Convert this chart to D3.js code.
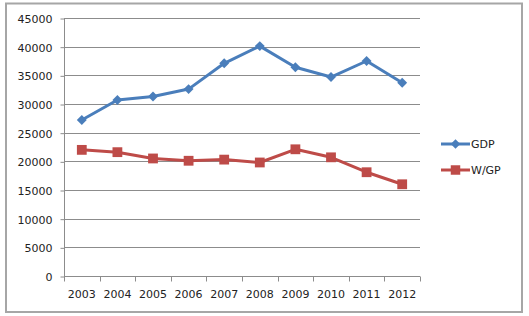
<!DOCTYPE html>
<html lang="en">
<head>
  <meta charset="utf-8">
  <title>GDP vs W/GP</title>
  <script src="https://cdn.jsdelivr.net/npm/d3@7"></script>
  <style>
    body { margin: 0; background: #fff; }
    svg text { font-family: "DejaVu Sans", sans-serif; font-size: 11px; fill: #222; }
  </style>
</head>
<body>
  <div id="chart"></div>
  <script>
    var years = ["2003", "2004", "2005", "2006", "2007", "2008", "2009", "2010", "2011", "2012"];
    var gdp = [27200, 30700, 31300, 32600, 37100, 40100, 36400, 34700, 37500, 33700];
    var wgp = [22000, 21600, 20500, 20100, 20300, 19800, 22100, 20700, 18100, 16000];
    var yTicks = [0, 5000, 10000, 15000, 20000, 25000, 30000, 35000, 40000, 45000];

    var series = [
      { name: "GDP", values: gdp, color: "#4a7ebb", marker: "diamond" },
      { name: "W/GP", values: wgp, color: "#be4b48", marker: "square" }
    ];

    var width = 529, height = 316;
    var plot = { left: 64, right: 420, top: 18, bottom: 276 };

    var svg = d3.select("#chart").append("svg")
      .attr("width", width)
      .attr("height", height);

    // outer chart border
    svg.append("rect")
      .attr("x", 6).attr("y", 3.5)
      .attr("width", 516).attr("height", 308.5)
      .attr("fill", "#fff")
      .attr("stroke", "#a6a6a6")
      .attr("stroke-width", 2);

    var x = d3.scaleBand()
      .domain(years)
      .range([plot.left, plot.right]);

    var y = d3.scaleLinear()
      .domain([0, 45000])
      .range([plot.bottom, plot.top]);

    // gridlines
    svg.append("g")
      .selectAll("line")
      .data(yTicks.filter(function (d) { return d > 0; }))
      .enter().append("line")
      .attr("x1", plot.left).attr("x2", plot.right)
      .attr("y1", function (d) { return Math.round(y(d)) + 0.5; })
      .attr("y2", function (d) { return Math.round(y(d)) + 0.5; })
      .attr("stroke", "#8c8c8c")
      .attr("stroke-width", 1);

    // y axis
    var yAxis = svg.append("g")
      .attr("transform", "translate(" + (plot.left + 0.5) + ",0.5)")
      .call(d3.axisLeft(y).tickValues(yTicks).tickSize(4).tickPadding(8).tickFormat(d3.format("d")));
    yAxis.select(".domain").attr("stroke", "#8c8c8c").attr("d", "M0," + plot.top + "V" + plot.bottom);
    yAxis.selectAll(".tick line").attr("stroke", "#8c8c8c");
    yAxis.selectAll(".tick text").attr("dy", "0.35em");

    // x axis
    var xAxis = svg.append("g")
      .attr("transform", "translate(0," + (plot.bottom + 0.5) + ")")
      .call(d3.axisBottom(x).tickSize(0).tickPadding(14));
    xAxis.select(".domain").attr("stroke", "#8c8c8c").attr("d", "M" + plot.left + ",0H" + plot.right);
    xAxis.selectAll(".tick line").remove();
    // tick marks between categories
    xAxis.selectAll(".sep")
      .data(d3.range(years.length + 1))
      .enter().append("line")
      .attr("class", "sep")
      .attr("x1", function (i) { return Math.round(plot.left + i * x.step()) + 0.5; })
      .attr("x2", function (i) { return Math.round(plot.left + i * x.step()) + 0.5; })
      .attr("y1", 0).attr("y2", 5)
      .attr("stroke", "#8c8c8c");

    var line = d3.line()
      .x(function (d, i) { return x(years[i]) + x.bandwidth() / 2; })
      .y(function (d) { return y(d); });

    function drawMarker(g, type, color, size) {
      var sym = type === "diamond"
        ? d3.symbol().type(d3.symbolDiamond2).size(size * 0.65)
        : d3.symbol().type(d3.symbolSquare).size(size);
      g.append("path")
        .attr("d", sym())
        .attr("fill", color);
    }

    series.forEach(function (s) {
      svg.append("path")
        .datum(s.values)
        .attr("d", line)
        .attr("fill", "none")
        .attr("stroke", s.color)
        .attr("stroke-width", 3)
        .attr("stroke-linejoin", "round");

      svg.append("g")
        .selectAll("g")
        .data(s.values)
        .enter().append("g")
        .attr("transform", function (d, i) {
          return "translate(" + (x(years[i]) + x.bandwidth() / 2) + "," + y(d) + ")";
        })
        .each(function () { drawMarker(d3.select(this), s.marker, s.color, 96); });
    });

    // legend
    var legend = svg.append("g")
      .selectAll("g")
      .data(series)
      .enter().append("g")
      .attr("transform", function (d, i) { return "translate(441," + (144 + i * 26) + ")"; });

    legend.append("line")
      .attr("x1", 0).attr("x2", 29)
      .attr("stroke", function (d) { return d.color; })
      .attr("stroke-width", 3);

    legend.each(function (d) {
      var g = d3.select(this).append("g").attr("transform", "translate(14.5,0)");
      drawMarker(g, d.marker, d.color, 90);
    });

    legend.append("text")
      .attr("x", 30)
      .attr("dy", "0.35em")
      .text(function (d) { return d.name; });
  </script>
</body>
</html>
